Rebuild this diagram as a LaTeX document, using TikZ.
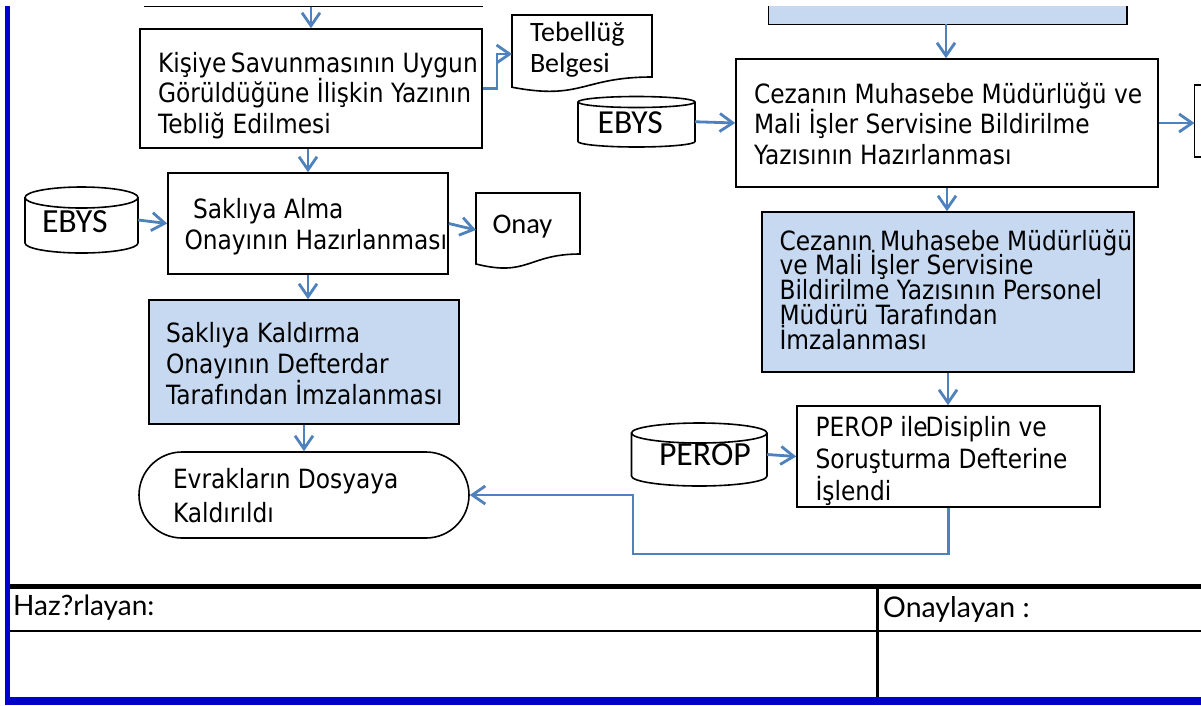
\documentclass[tikz,border=0pt]{standalone}
\usepackage{fontspec}
\usetikzlibrary{arrows.meta}
\newfontfamily\flowfam{DejaVu Sans}[FakeStretch=0.88]
\newfontfamily\calfam{Carlito}
\newfontfamily\footfam{Lato}
\definecolor{cblue}{RGB}{79,129,189}
\definecolor{lblue}{RGB}{198,217,241}
\definecolor{barblue}{RGB}{0,0,204}
% #1 width, #2 height, #3 left pad, #4 first baseline from top, #5 font size, #6 baselineskip, #7 lines
\newcommand{\bt}[7]{\parbox[c][#2pt][t]{#1pt}{\fontsize{#5pt}{#6pt}\selectfont\raggedright\leftskip=#3pt\relax\parindent=0pt\lineskiplimit=-100pt\rule{0pt}{#4pt}#7}}
\begin{document}
\begin{tikzpicture}[x=1pt,y=-1pt,
  box/.style={draw=black, line width=1.6pt, inner sep=0pt, font=\flowfam},
  shp/.style={inner sep=0pt, font=\calfam},
  outl/.style={draw=black, line width=1.6pt},
  arr/.style={draw=cblue, line width=2.8pt, -{Straight Barb[length=13pt,width=18pt]}}]

\fill[white] (0,0) rectangle (1201,705);
\useasboundingbox (0,0) rectangle (1201,705);

% partial boxes at the top
\draw[outl] (144,6.5) -- (483,6.5);
\coordinate (topL) at (311,6.5);
\fill[lblue] (768.5,6) rectangle (1127,24.3);
\draw[outl] (768.5,6) -- (768.5,24.3) -- (1127,24.3) -- (1127,6);
\coordinate (topR) at (946,24.3);

% process boxes
\node[box] (A) at (311,88.5) {\bt{342}{119}{18}{43}{26.5}{30.5}{\mbox{Kişiye\,Savunmasının Uygun}\\\mbox{Görüldüğüne İlişkin Yazının}\\\mbox{Tebliğ Edilmesi}}};
\node[box] (B) at (308,223.5) {\bt{280}{101}{16.5}{45}{26.5}{31}{\mbox{\hspace*{8.5pt}Saklıya Alma}\\\mbox{Onayının Hazırlanması}}};
\node[box, fill=lblue] (C) at (304,362) {\bt{310}{124}{17}{42}{26.5}{31}{\mbox{Saklıya Kaldırma}\\\mbox{Onayının Defterdar}\\\mbox{Tarafından İmzalanması}}};
\node[box, rounded corners=43pt] (D) at (304,495) {\bt{330}{86}{34}{36}{26.5}{34}{\mbox{Evrakların Dosyaya}\\\mbox{Kaldırıldı}}};
\node[box] (E) at (947,123) {\bt{422}{128}{18}{44}{26.5}{30.5}{\mbox{Cezanın Muhasebe Müdürlüğü ve}\\\mbox{Mali İşler Servisine Bildirilme}\\\mbox{Yazısının Hazırlanması}}};
\node[box, fill=lblue] (F) at (948,292) {\bt{372}{160}{17.5}{38}{26.5}{24.8}{\mbox{Cezanın Muhasebe Müdürlüğü}\\\mbox{ve Mali İşler Servisine}\\\mbox{Bildirilme Yazısının Personel}\\\mbox{Müdürü Tarafından}\\\mbox{İmzalanması}}};
\node[box] (G) at (948.5,456.5) {\bt{303}{101}{18.5}{30}{26.5}{32}{\mbox{PEROP ile\kern-2pt Disiplin ve}\\\mbox{Soruşturma Defterine}\\\mbox{İşlendi}}};

% documents
\draw[outl] (512,15) -- (652,15) -- (652,77) .. controls (582,77) and (582,100.6) .. (512,87.2) -- cycle;
\node[shp] (tb) at (582,51) {\bt{140}{72}{18}{26.7}{28}{31}{\mbox{Tebellüğ}\\\mbox{Belgesi}}};
\coordinate (tbin) at (512,54);
\draw[outl] (476,193) -- (580,193) -- (580,254) .. controls (528,254) and (528,277.1) .. (476,264) -- cycle;
\node[shp] (on) at (528,228.5) {\bt{104}{71}{16.5}{40}{28.5}{30}{\mbox{Onay}}};
\coordinate (onin) at (476,230);

% databases
\draw[outl] (81.5,197.5) ellipse [x radius=56.5, y radius=10.5];
\draw[outl] (25,197.5) -- (25,243) .. controls (25,248.5) and (50.3,253) .. (81.5,253) .. controls (112.7,253) and (138,248.5) .. (138,243) -- (138,197.5);
\node[shp] (e1) at (81.5,220) {\bt{113}{66}{17}{45}{33.8}{34}{\mbox{EBYS}}};

\draw[outl] (636.5,102) ellipse [x radius=58.5, y radius=5.5];
\draw[outl] (578,102) -- (578,141.5) .. controls (578,144.5) and (604.2,147) .. (636.5,147) .. controls (668.8,147) and (695,144.5) .. (695,141.5) -- (695,102);
\node[shp] (e2) at (636.5,121.75) {\bt{117}{50.5}{19.6}{36.5}{33.6}{34}{\mbox{EBYS}}};

\draw[outl] (699.25,433) ellipse [x radius=67.75, y radius=10];
\draw[outl] (631.5,433) -- (631.5,476) .. controls (631.5,481.5) and (661.8,486) .. (699.25,486) .. controls (736.7,486) and (767,481.5) .. (767,476) -- (767,433);
\node[shp] (pe) at (699.25,454.5) {\bt{135.5}{63}{27.5}{42}{33.8}{34}{\mbox{PEROP}}};

% partial shape at the right edge
\draw[outl] (1201,85) -- (1194.5,85) -- (1194.5,157) -- (1201,157);
\coordinate (rin) at (1194.5,123);

% connectors
\draw[arr] (topL) -- (A.north);
\draw[arr] (A.east) -| ([xshift=-15pt]tbin) -- (tbin);
\draw[arr] (A.south -| B.north) -- (B.north);
\draw[arr] (e1.east) -- (B.west);
\draw[arr] (B.east) -- (onin);
\draw[arr] (B.south) -- (B.south |- C.north);
\draw[arr] (C.south) -- (D.north);
\draw[arr] (topR) -- (topR |- E.north);
\draw[arr] (e2.east) -- (E.west);
\draw[arr] (E.east) -- (rin);
\draw[arr] (E.south) -- (E.south |- F.north);
\draw[arr] (F.south) -- (F.south |- G.north);
\draw[arr] (pe.east) -- (G.west);
\coordinate (c1) at (633,554);
\draw[arr] (G.south) |- (c1) |- (D.east);

% footer table
\fill[barblue] (5,6) rectangle (9.5,705);
\fill[barblue] (5,697) rectangle (1201,705);
\draw[line width=5pt] (9.5,586.5) -- (1201,586.5);
\draw[line width=2pt] (9.5,631) -- (1201,631);
\draw[line width=3pt] (877.5,586.5) -- (877.5,697);
\node[anchor=base west, inner sep=0pt, font=\footfam\fontsize{28}{30}\selectfont] (hz) at (13,615) {Haz?rlayan:};
\node[anchor=base west, inner sep=0pt, font=\footfam\fontsize{28.5}{30}\selectfont] (oy) at (883,617) {Onaylayan :};
\end{tikzpicture}
\end{document}
